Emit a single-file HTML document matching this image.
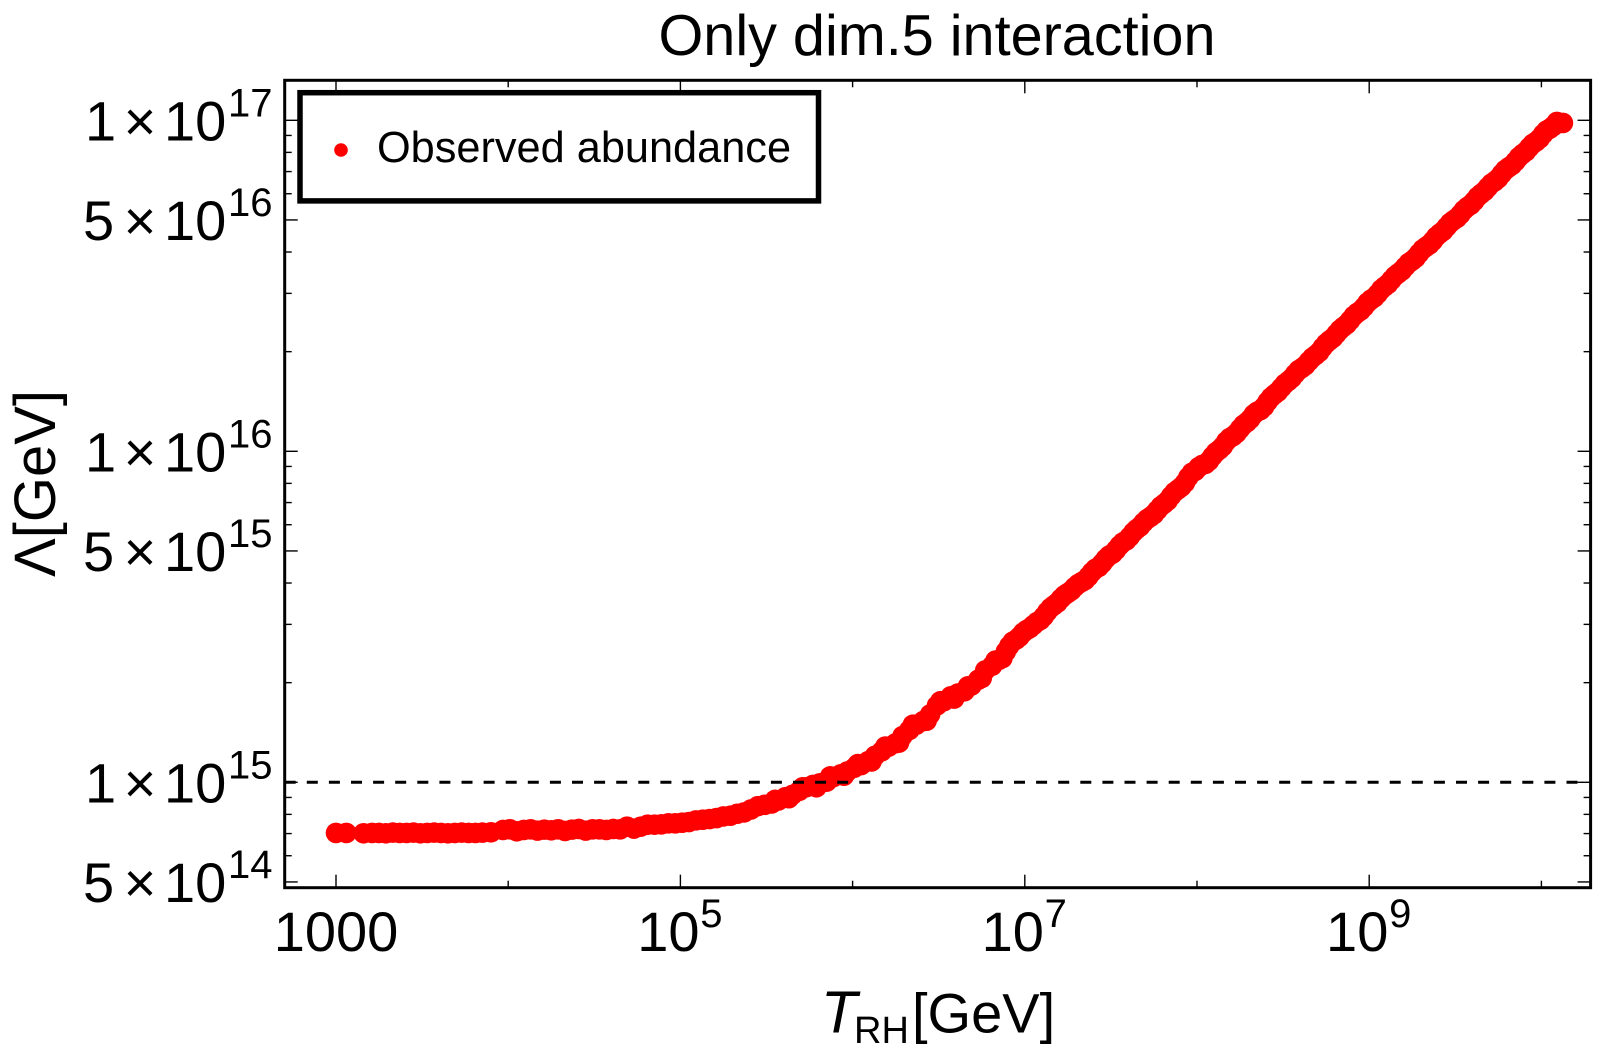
<!DOCTYPE html>
<html lang="en">
<head>
<meta charset="utf-8">
<title>Only dim.5 interaction</title>
<style>
html,body{margin:0;padding:0;background:#fff;width:1600px;height:1050px;overflow:hidden}
svg{display:block}
text{font-family:"Liberation Sans",Arial,sans-serif;fill:#000}
</style>
</head>
<body>
<svg id="chart" width="1600" height="1050" viewBox="0 0 1600 1050" xmlns="http://www.w3.org/2000/svg">
  <rect x="0" y="0" width="1600" height="1050" fill="#fff"/>
  <text x="937" y="55" font-size="57.6" text-anchor="middle">Only dim.5 interaction</text>
  <g id="series"></g>
  <line id="refline" stroke="#000" stroke-width="3" stroke-dasharray="11 11.1"/>
  <g id="ticks"></g>
  <g id="xlabels"></g>
  <g id="ylabels"></g>
  <rect x="284.7" y="80.3" width="1305.9" height="807.4" fill="none" stroke="#000" stroke-width="3"/>
  <g>
    <rect x="300" y="92.7" width="518.5" height="108.2" fill="#fff" stroke="#000" stroke-width="5.5"/>
    <circle cx="341" cy="150" r="6.8" fill="#ff0000"/>
    <text x="377" y="162" font-size="43.3">Observed abundance</text>
  </g>
  <text y="1032.5" font-size="57"><tspan x="821" font-style="italic" font-size="59">T</tspan><tspan x="854" y="1043" font-size="38">RH</tspan><tspan x="912" y="1032.5" font-size="56">[GeV]</tspan></text>
  <text transform="translate(55 577) rotate(-90)" x="0" y="0" font-size="58">Λ[GeV]</text>
</svg>
<script>
// Picture-read data: log10 of T_RH [GeV] and log10 of Lambda [GeV]
const tRhLog10 = [
3.00,3.06,3.16,3.21,3.25,3.29,3.33,3.37,3.41,3.45,
3.49,3.53,3.57,3.61,3.65,3.69,3.73,3.77,3.81,3.85,
3.90,3.97,4.01,4.05,4.09,4.13,4.17,4.21,4.25,4.29,
4.33,4.37,4.41,4.45,4.49,4.53,4.57,4.61,4.65,4.69,
4.73,4.77,4.81,4.85,4.89,4.93,4.97,5.01,5.05,5.09,
5.13,5.17,5.21,5.25,5.29,5.33,5.37,5.41,5.45,5.49,
5.53,5.57,5.61,5.65,5.69,5.73,5.77,5.81,5.85,5.89,
5.93,5.97,6.01,6.05,6.09,6.13,6.17,6.21,6.25,6.29,
6.33,6.37,6.41,6.45,6.49,6.53,6.57,6.61,6.65,6.69,
6.73,6.77,6.81,6.85,6.89,6.93,6.97,7.01,7.05,7.09,
7.13,7.17,7.21,7.25,7.29,7.33,7.37,7.41,7.45,7.49,
7.53,7.57,7.61,7.65,7.69,7.73,7.77,7.81,7.85,7.89,
7.93,7.97,8.01,8.05,8.09,8.13,8.17,8.21,8.25,8.29,
8.33,8.37,8.41,8.45,8.49,8.53,8.57,8.61,8.65,8.69,
8.73,8.77,8.81,8.85,8.89,8.93,8.97,9.01,9.05,9.09,
9.13,9.17,9.21,9.25,9.29,9.33,9.37,9.41,9.45,9.49,
9.53,9.57,9.61,9.65,9.69,9.73,9.77,9.81,9.85,9.89,
9.93,9.97,10.01,10.05,10.09,10.125,
6.91,6.95,6.99,7.03,7.07,7.11,7.15,7.19,7.23,7.27,
7.31,7.35,7.39,7.43,7.47,7.51,7.55,7.59,7.63,7.67,
7.71,7.75,7.79,7.83,7.87,7.91,7.95,7.99,8.03,8.07,
8.11,8.15,8.19,8.23,8.27,8.31,8.35,8.39,8.43,8.47,
8.51,8.55,8.59,8.63,8.67,8.71,8.75,8.79,8.83,8.87,
8.91,8.95,8.99,9.03,9.07,9.11,9.15,9.19,9.23,9.27,
9.31,9.35,9.39,9.43,9.47,9.51,9.55,9.59,9.63,9.67,
9.71,9.75,9.79,9.83,9.87,9.91,9.95,9.99,10.03,10.07,
5.55,5.63,5.71,5.79,5.87,5.95,6.03,6.11,6.19,6.27,
6.35,6.43,6.51,6.59,6.67,6.75,6.83,6.87
];
const lambdaLog10 = [
14.847,14.847,14.846,14.847,14.847,14.846,14.848,14.847,14.847,14.848,
14.846,14.847,14.848,14.847,14.846,14.847,14.848,14.847,14.847,14.848,
14.849,14.856,14.858,14.852,14.856,14.858,14.854,14.857,14.855,14.858,
14.853,14.857,14.859,14.854,14.858,14.858,14.856,14.859,14.858,14.866,
14.860,14.866,14.872,14.872,14.873,14.876,14.876,14.878,14.880,14.885,
14.887,14.889,14.892,14.897,14.899,14.905,14.909,14.918,14.928,14.932,
14.936,14.945,14.955,14.962,14.974,14.985,14.992,14.997,15.002,15.016,
15.024,15.033,15.044,15.052,15.064,15.080,15.094,15.108,15.118,15.140,
15.158,15.174,15.185,15.205,15.232,15.245,15.260,15.268,15.275,15.292,
15.310,15.338,15.352,15.370,15.395,15.425,15.440,15.460,15.475,15.490,
15.515,15.535,15.555,15.572,15.590,15.605,15.622,15.645,15.662,15.685,
15.702,15.725,15.742,15.765,15.785,15.802,15.822,15.842,15.865,15.885,
15.905,15.935,15.952,15.962,15.985,16.005,16.030,16.046,16.068,16.088,
16.112,16.125,16.150,16.172,16.192,16.212,16.234,16.252,16.272,16.291,
16.314,16.335,16.355,16.376,16.396,16.418,16.436,16.458,16.476,16.498,
16.518,16.538,16.558,16.576,16.598,16.618,16.636,16.658,16.678,16.698,
16.716,16.738,16.756,16.778,16.798,16.816,16.838,16.858,16.876,16.898,
16.918,16.936,16.958,16.975,16.995,16.992,
15.412,15.431,15.452,15.466,15.484,15.501,15.527,15.543,15.565,15.579,
15.599,15.611,15.635,15.651,15.675,15.691,15.715,15.731,15.755,15.773,
15.795,15.810,15.834,15.851,15.877,15.893,15.922,15.941,15.959,15.971,
15.997,16.015,16.040,16.055,16.080,16.098,16.120,16.135,16.163,16.180,
16.204,16.221,16.245,16.260,16.283,16.300,16.326,16.343,16.367,16.384,
16.409,16.425,16.449,16.465,16.489,16.506,16.530,16.546,16.569,16.585,
16.610,16.625,16.649,16.666,16.690,16.705,16.729,16.745,16.769,16.786,
16.809,16.825,16.850,16.865,16.889,16.906,16.929,16.945,16.969,16.983,
14.947,14.952,14.985,14.985,15.018,15.020,15.055,15.063,15.108,15.120,
15.174,15.186,15.245,15.253,15.290,15.315,15.368,15.375
];
const referenceLambda = 1e15;
const xMajorExponents = [3,5,7,9];
const xMinorExponents = [4,6,8,10];
const yMajorMantissas = [1,5,1,5,1,5];
const yMajorExponents = [17,16,16,15,15,14];
const yMinorMantissas = [9,8,7,6,4,3,2];
const yMinorDecades = [16,15,14];

const NS = 'http://www.w3.org/2000/svg';
const X0 = 336, X_PER_DECADE = 172.2;
const Y17 = 120.3, Y_PER_DECADE = 331;
const LEFT = 284.7, RIGHT = 1590.6, TOP = 80.3, BOTTOM = 887.7;
function xScale(logT){ return X0 + (logT - 3) * X_PER_DECADE; }
function yScale(logL){ return Y17 + (17 - logL) * Y_PER_DECADE; }
function make(tag, parentId){
  const el = document.createElementNS(NS, tag);
  document.getElementById(parentId).appendChild(el);
  return el;
}
function tickLine(x1, y1, x2, y2){
  const l = make('line', 'ticks');
  l.setAttribute('x1', x1);
  l.setAttribute('y1', y1);
  l.setAttribute('x2', x2);
  l.setAttribute('y2', y2);
  l.setAttribute('stroke', '#000');
  l.setAttribute('stroke-width', '1.4');
  
  
}
function label(parentId, str, x, y, size, anchor){
  const t = make('text', parentId);
  t.setAttribute('x', x);
  t.setAttribute('y', y);
  t.setAttribute('font-size', size);
  t.setAttribute('text-anchor', anchor);
  t.textContent = str;
  
  
}

// series
tRhLog10.forEach(function(logT, i){
  const c = make('circle', 'series');
  c.setAttribute('cx', xScale(logT).toFixed(2));
  c.setAttribute('cy', yScale(lambdaLog10[i]).toFixed(2));
  c.setAttribute('r', '10.3');
  c.setAttribute('fill', '#ff0000');
  
  
});

// reference line
const ref = document.getElementById('refline');
const refY = yScale(Math.log10(referenceLambda));
ref.setAttribute('x1', LEFT);
ref.setAttribute('x2', RIGHT - 5);
ref.setAttribute('y1', refY);
ref.setAttribute('y2', refY);

// x ticks
xMajorExponents.forEach(function(e){
  const x = xScale(e);
  tickLine(x, BOTTOM, x, BOTTOM - 13);
  tickLine(x, TOP, x, TOP + 13);
  if (e === 3) {
    label('xlabels', '1000', x, 951, 56, 'middle');
  } else {
    label('xlabels', '10', x - 12, 951, 56, 'middle');
    label('xlabels', String(e), x + 31, 927, 40, 'middle');
  }
});
xMinorExponents.forEach(function(e){
  const x = xScale(e);
  tickLine(x, BOTTOM, x, BOTTOM - 7);
  tickLine(x, TOP, x, TOP + 7);
});

// y ticks
yMajorMantissas.forEach(function(m, i){
  const e = yMajorExponents[i];
  const y = yScale(e + Math.log10(m));
  tickLine(LEFT, y, LEFT + 13, y);
  tickLine(RIGHT, y, RIGHT - 13, y);
  label('ylabels', String(m), m === 1 ? 85 : 83, y + 20, 56, 'start');
  label('ylabels', '×', 140, y + 20, 56, 'middle');
  label('ylabels', '10', 164, y + 20, 56, 'start');
  label('ylabels', String(e), 228, y - 4, 40, 'start');
});
yMinorDecades.forEach(function(d){
  yMinorMantissas.forEach(function(m){
    const logL = d + Math.log10(m);
    if (d === 14 && m < 5) return;
    const y = yScale(logL);
    tickLine(LEFT, y, LEFT + 7, y);
    tickLine(RIGHT, y, RIGHT - 7, y);
  });
});
</script>
</body>
</html>
